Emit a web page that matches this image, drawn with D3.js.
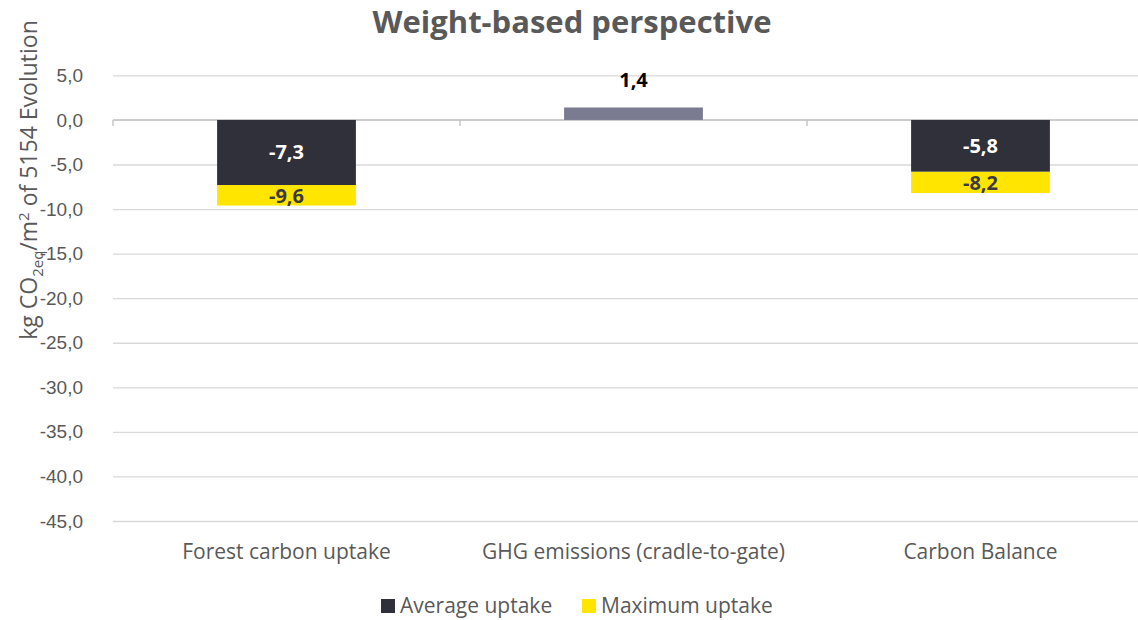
<!DOCTYPE html>
<html>
<head>
<meta charset="utf-8">
<script src="https://cdn.jsdelivr.net/npm/d3@7"></script>
<style>
  body { margin: 0; background: #fff; }
  svg { display: block; font-family: "Open Sans", "Noto Sans", sans-serif; }
</style>
</head>
<body>
<div id="container"></div>
<script>
const categories = ["Forest carbon uptake", "GHG emissions (cradle-to-gate)", "Carbon Balance"];
const averageUptake = [-7.3, 1.4, -5.8];
const maximumUptake = [-9.6, null, -8.2];
const yTicks = [5, 0, -5, -10, -15, -20, -25, -30, -35, -40, -45];
const seriesNames = ["Average uptake", "Maximum uptake"];

const width = 1138, height = 620;
const plotLeft = 113, plotRight = 1154, plotTop = 75.4, plotBottom = 521;

const fmt = v => d3.format(".1f")(v).replace("−", "-").replace(".", ",");

const svg = d3.select("#container").append("svg")
    .attr("width", width)
    .attr("height", height);

const x = d3.scaleBand()
    .domain(categories)
    .range([plotLeft, plotRight])
    .paddingInner(0.6)
    .paddingOuter(0.3);

const xOuter = d3.scaleBand().domain(categories).range([plotLeft, plotRight]);

const y = d3.scaleLinear()
    .domain([5, -45])
    .range([plotTop, plotBottom]);

// gridlines
const yAxis = d3.axisLeft(y)
    .tickValues(yTicks)
    .tickSize(-(plotRight - plotLeft))
    .tickFormat(fmt)
    .tickPadding(30);

const gy = svg.append("g")
    .attr("transform", `translate(${plotLeft},0)`)
    .call(yAxis);
gy.select(".domain").remove();
gy.selectAll(".tick line").attr("stroke", "#d9d9d9").attr("stroke-width", 1.3);
gy.selectAll(".tick text")
    .attr("fill", "#595959")
    .attr("font-size", 19);

// zero axis with category tick marks
const gx = svg.append("g").attr("transform", `translate(0,${y(0)})`);
gx.append("line")
    .attr("x1", plotLeft).attr("x2", plotRight)
    .attr("stroke", "#bfbfbf").attr("stroke-width", 1.3);
gx.selectAll(".sep")
    .data(categories)
    .enter().append("line")
    .attr("x1", d => xOuter(d)).attr("x2", d => xOuter(d))
    .attr("y1", 0).attr("y2", 6)
    .attr("stroke", "#bfbfbf").attr("stroke-width", 1.3);

// maximum uptake (yellow) from average to maximum
svg.selectAll(".maxbar")
    .data(categories.map((c, i) => ({c, a: averageUptake[i], m: maximumUptake[i]})).filter(d => d.m != null))
    .enter().append("rect")
    .attr("x", d => x(d.c))
    .attr("width", x.bandwidth())
    .attr("y", d => y(d.a))
    .attr("height", d => y(d.m) - y(d.a))
    .attr("fill", "#ffe500");

// average uptake bars
svg.selectAll(".avgbar")
    .data(categories.map((c, i) => ({c, a: averageUptake[i]})))
    .enter().append("rect")
    .attr("x", d => x(d.c))
    .attr("width", x.bandwidth())
    .attr("y", d => y(Math.max(0, d.a)))
    .attr("height", d => Math.abs(y(d.a) - y(0)))
    .attr("fill", d => d.a > 0 ? "#7a7a91" : "#30303a");

// labels
svg.selectAll(".avglabel")
    .data(categories.map((c, i) => ({c, a: averageUptake[i]})))
    .enter().append("text")
    .attr("x", d => x(d.c) + x.bandwidth() / 2)
    .attr("y", d => d.a > 0 ? y(d.a) - 27 : (y(0) + y(d.a)) / 2)
    .attr("dy", "0.35em")
    .attr("text-anchor", "middle")
    .attr("font-size", 20)
    .attr("font-weight", "bold")
    .attr("fill", d => d.a > 0 ? "#000" : "#fff")
    .text(d => fmt(d.a));

svg.selectAll(".maxlabel")
    .data(categories.map((c, i) => ({c, a: averageUptake[i], m: maximumUptake[i]})).filter(d => d.m != null))
    .enter().append("text")
    .attr("x", d => x(d.c) + x.bandwidth() / 2)
    .attr("y", d => (y(d.a) + y(d.m)) / 2 + 1)
    .attr("dy", "0.35em")
    .attr("text-anchor", "middle")
    .attr("font-size", 20)
    .attr("font-weight", "bold")
    .attr("fill", "#3a3a3a")
    .text(d => fmt(d.m));

// category labels
svg.selectAll(".cat")
    .data(categories)
    .enter().append("text")
    .attr("x", d => xOuter(d) + xOuter.bandwidth() / 2)
    .attr("y", 552)
    .attr("dy", "0.35em")
    .attr("text-anchor", "middle")
    .attr("font-size", 21)
    .attr("fill", "#595959")
    .text(d => d);

// title
svg.append("text")
    .attr("x", 572)
    .attr("y", 22)
    .attr("dy", "0.35em")
    .attr("text-anchor", "middle")
    .attr("font-size", 31)
    .attr("font-weight", "bold")
    .attr("fill", "#595959")
    .text("Weight-based perspective");

// y axis title
const yt = svg.append("text")
    .attr("transform", "translate(37,180) rotate(-90)")
    .attr("text-anchor", "middle")
    .attr("font-size", 23)
    .attr("fill", "#595959");
yt.append("tspan").text("kg CO");
yt.append("tspan").attr("font-size", 15).attr("dy", 6).text("2eq");
yt.append("tspan").attr("dy", -6).text("/m");
yt.append("tspan").attr("font-size", 15).attr("dy", -8).text("2");
yt.append("tspan").attr("dy", 8).text(" of 5154 Evolution");

// legend
const legendColors = ["#30303a", "#ffe500"];
const legendX = [381, 582];
const lg = svg.selectAll(".lg")
    .data(seriesNames)
    .enter().append("g")
    .attr("transform", (d, i) => `translate(${legendX[i]},606)`);
lg.append("rect")
    .attr("x", 0).attr("y", -7)
    .attr("width", 14).attr("height", 14)
    .attr("fill", (d, i) => legendColors[i]);
lg.append("text")
    .attr("x", 19)
    .attr("dy", "0.35em")
    .attr("font-size", 21)
    .attr("fill", "#595959")
    .text(d => d);
</script>
</body>
</html>
